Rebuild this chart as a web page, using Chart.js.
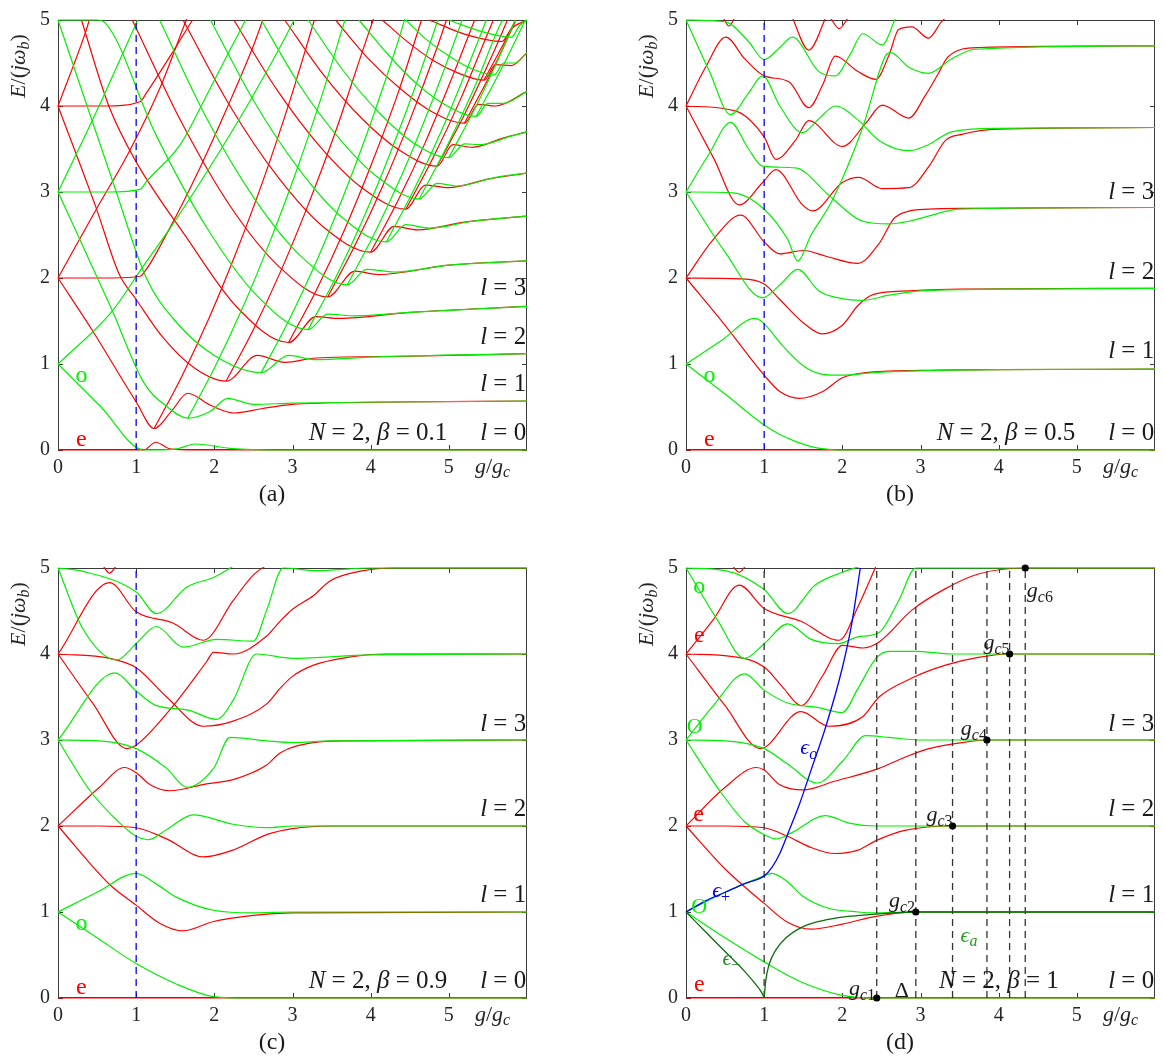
<!DOCTYPE html>
<html lang="en">
<head>
<meta charset="UTF-8">
<title>Energy spectra, N = 2</title>
<script src="https://cdn.jsdelivr.net/npm/chart.js"></script>
<style>
    * { margin: 0; padding: 0; box-sizing: border-box; }
    body {
        width: 1165px;
        height: 1064px;
        overflow: hidden;
        position: relative;
        background: #fff;
        font-family: "Liberation Serif", "Times New Roman", Times, "DejaVu Serif", serif;
    }
    canvas { position: absolute; }
    .tag {
        position: absolute;
        font-size: 24px;
        color: #1a1a1a;
        transform: translate(-50%, -50%);
    }
</style>
</head>
<body>
<canvas id="panelA" width="537" height="480" style="left:0;top:0"></canvas>
<canvas id="panelB" width="537" height="480" style="left:628px;top:0"></canvas>
<canvas id="panelC" width="537" height="480" style="left:0;top:548px"></canvas>
<canvas id="panelD" width="537" height="480" style="left:628px;top:548px"></canvas>
<div class="tag" style="left:272px;top:493px">(a)</div>
<div class="tag" style="left:900px;top:493px">(b)</div>
<div class="tag" style="left:272px;top:1041px">(c)</div>
<div class="tag" style="left:900px;top:1041px">(d)</div>

<script>
// axis ticks
const xTicks = [0, 1, 2, 3, 4, 5];
const yTicks = [0, 1, 2, 3, 4, 5];
const dashAt = 1; // g = g_c

// critical couplings in (d)
const gcX = [2.44, 2.94, 3.41, 3.85, 4.14, 4.34];
const gcY = [0, 1, 2, 3, 4, 5];

// (a) beta = 0.1 : even (red) and odd (green) levels
const aRed = [
    [[0,0],[1.1,0],[1.25,0.09],[1.45,0.01],[2,0],[6,0]],
    [[0,2],[0.44,1.39],[1.0,0.56],[1.23,0.25],[1.45,0.45],[1.66,0.66],[1.95,0.52],[2.25,0.43],[2.6,0.48],[3,0.53],[4,0.555],[6,0.57]],
    [[0,4],[0.49,2.81],[0.78,2.05],[1.0,1.75],[1.35,1.3],[1.75,0.95],[2.15,0.8],[2.55,1.1],[2.9,1.02],[3.3,1.07],[4.5,1.09],[6,1.12]],
    [[0,2],[0.49,2.8],[0.9,3.45],[1.3,4.2],[1.62,4.95],[1.65,5.02]],
    [[0,2],[0.7,2.0],[1.05,2.02],[1.13,2.1],[1.43,2.58],[1.8,3.25],[2.15,3.95],[2.5,4.7],[2.62,5.0]],
    [[0,4],[0.6,4.0],[1.05,4.05],[1.13,4.15],[1.49,4.66],[1.72,5.0]],
    [[0,4],[0.36,4.88],[0.4,5.0]],
    [[0.3,5],[0.65,4.0],[1.0,3.35],[1.63,2.49],[2.29,1.66],[2.95,1.25],[3.3,1.55],[3.6,1.53],[4.5,1.6],[6,1.67]],
    [[0.95,5],[1.58,3.81],[2.2,2.84],[2.83,2.13],[3.45,1.78],[3.8,2.08],[4.1,2.04],[5,2.15],[6,2.2]],
    [[1.6,5],[2.2,4.0],[2.8,3.19],[3.4,2.59],[4.0,2.3],[4.3,2.6],[4.6,2.56],[5.2,2.65],[6,2.72]],
    [[2.25,5],[2.8,4.19],[3.35,3.53],[3.9,3.04],[4.45,2.8],[4.7,3.08],[5.0,3.05],[5.5,3.15],[6,3.22]],
    [[2.9,5],[3.39,4.37],[3.88,3.86],[4.36,3.49],[4.85,3.3],[5.05,3.55],[5.3,3.52],[5.7,3.63],[6,3.7]],
    [[3.55,5],[3.96,4.56],[4.38,4.2],[4.79,3.93],[5.2,3.8],[5.38,4.02],[5.6,4.0],[6,4.17]],
    [[4.15,5],[4.48,4.74],[4.8,4.53],[5.13,4.38],[5.45,4.3],[5.6,4.48],[5.8,4.47],[6,4.62]],
    [[4.75,5],[5.22,4.83],[5.68,4.75],[5.8,4.9],[6,5.0]],
    [[1.23,0.25],[1.58,0.85],[1.93,1.53],[2.28,2.3],[2.63,3.15],[2.98,4.1],[3.28,5.0]],
    [[2.15,0.8],[2.5,1.4],[2.85,2.08],[3.2,2.85],[3.55,3.7],[3.9,4.65],[4.05,5.05]],
    [[2.95,1.25],[3.3,1.85],[3.65,2.53],[4.0,3.3],[4.35,4.15],[4.65,5.0]],
    [[3.45,1.78],[3.8,2.38],[4.15,3.06],[4.5,3.83],[4.85,4.68],[4.97,5.0]],
    [[4.0,2.3],[4.35,2.9],[4.7,3.58],[5.05,4.35],[5.33,5.0]],
    [[4.45,2.8],[4.8,3.4],[5.15,4.08],[5.5,4.85],[5.57,5.0]],
    [[4.85,3.3],[5.2,3.9],[5.55,4.58],[5.75,5.0]],
    [[5.2,3.8],[5.55,4.4],[5.85,4.98]],
    [[5.45,4.3],[5.8,4.9],[5.85,5.0]]
];
const aGreen = [
    [[0,1],[0.55,0.5],[1.1,0],[1.5,0.01],[1.75,0.07],[2.2,0.02],[2.8,0],[6,0]],
    [[0,3],[0.68,1.65],[1.1,0.78],[1.4,0.5],[1.66,0.37],[1.95,0.45],[2.17,0.6],[2.5,0.53],[3,0.545],[6,0.57]],
    [[0,5],[0.72,3.07],[1.13,2.0],[1.5,1.5],[2.0,1.1],[2.6,0.9],[2.95,1.1],[3.3,1.05],[4,1.08],[6,1.12]],
    [[0,1],[0.68,1.6],[1.1,2.15],[1.45,2.6],[1.95,3.3],[2.45,4.05],[2.85,4.7],[3.02,5.0]],
    [[0,3],[0.5,3.95],[1.02,5.0]],
    [[0,3],[0.65,3.0],[1.05,3.03],[1.13,3.12],[1.57,3.56],[1.91,4.14],[2.2,4.65],[2.4,5.0]],
    [[0,5],[0.5,5.0],[0.6,4.97],[1.25,3.67],[1.9,2.59],[2.55,1.79],[3.2,1.4],[3.45,1.58],[3.8,1.56],[4.5,1.6],[6,1.67]],
    [[1.3,5],[1.9,3.86],[2.5,2.94],[3.1,2.26],[3.7,1.92],[3.95,2.1],[4.3,2.07],[5,2.15],[6,2.2]],
    [[1.95,5],[2.51,4.05],[3.08,3.27],[3.64,2.7],[4.2,2.42],[4.45,2.62],[4.75,2.58],[5.3,2.66],[6,2.72]],
    [[2.6,5],[3.1,4.23],[3.61,3.61],[4.12,3.15],[4.62,2.92],[4.85,3.1],[5.1,3.07],[5.6,3.17],[6,3.22]],
    [[3.2,5],[3.65,4.41],[4.1,3.93],[4.55,3.57],[5.0,3.4],[5.2,3.56],[5.4,3.55],[5.8,3.65],[6,3.7]],
    [[3.85,5],[4.23,4.59],[4.6,4.25],[4.98,4.0],[5.35,3.88],[5.5,4.03],[5.7,4.03],[6,4.17]],
    [[4.45,5],[4.73,4.76],[5.02,4.57],[5.3,4.43],[5.58,4.36],[5.7,4.5],[5.85,4.5],[6,4.62]],
    [[5.0,5],[5.4,4.87],[5.8,4.8],[5.9,4.93],[6,5.0]],
    [[1.66,0.37],[2.01,0.97],[2.36,1.65],[2.71,2.42],[3.06,3.27],[3.41,4.22],[3.67,5.0]],
    [[2.6,0.9],[2.95,1.5],[3.3,2.18],[3.65,2.95],[4.0,3.8],[4.35,4.75],[4.45,5.05]],
    [[3.2,1.4],[3.55,2.0],[3.9,2.68],[4.25,3.45],[4.6,4.3],[4.86,5.0]],
    [[3.7,1.92],[4.05,2.52],[4.4,3.2],[4.75,3.97],[5.1,4.82],[5.17,5.0]],
    [[4.2,2.42],[4.55,3.02],[4.9,3.7],[5.25,4.47],[5.48,5.0]],
    [[4.62,2.92],[4.97,3.52],[5.32,4.2],[5.67,4.97],[5.69,5.0]],
    [[5.0,3.4],[5.35,4.0],[5.7,4.68],[5.85,5.0]],
    [[5.35,3.88],[5.7,4.48],[5.98,5.0]]
];

// (b) beta = 0.5
const bRed = [
    [[0,0],[6,0]],
    [[0,2],[0.5,1.45],[1.0,0.87],[1.2,0.68],[1.45,0.6],[1.75,0.68],[2.0,0.84],[2.3,0.9],[3,0.925],[4,0.935],[6,0.94]],
    [[0,2],[0.7,1.99],[1.0,1.93],[1.2,1.75],[1.5,1.48],[1.74,1.35],[2.0,1.45],[2.2,1.68],[2.4,1.81],[2.85,1.85],[3.5,1.87],[6,1.88]],
    [[0,2],[0.35,2.45],[0.7,2.73],[1.0,2.42],[1.2,2.28],[1.5,2.32],[1.8,2.25],[2.2,2.17],[2.47,2.4],[2.68,2.71],[3.1,2.8],[3.6,2.81],[6,2.82]],
    [[0,4],[0.35,3.4],[0.68,2.85],[0.98,3.11],[1.15,3.26],[1.49,2.85],[1.62,2.78],[2.0,3.11],[2.21,3.17],[2.51,3.04],[2.85,3.05],[3.11,3.3],[3.32,3.6],[3.53,3.67],[4,3.73],[6,3.75]],
    [[0,4],[0.64,3.94],[1.0,3.64],[1.15,3.38],[1.4,3.6],[1.57,3.83],[2.0,3.53],[2.3,3.8],[2.51,4.01],[2.85,3.86],[3.06,4.12],[3.23,4.38],[3.35,4.57],[3.74,4.68],[6,4.7]],
    [[0,4],[0.25,4.45],[0.51,4.8],[0.75,4.55],[1.0,4.35],[1.32,4.28],[1.57,3.98],[1.75,4.25],[1.91,4.58],[2.2,4.4],[2.43,4.31],[2.6,4.6],[2.72,4.89],[2.89,4.92],[3.1,4.79],[3.27,4.98],[3.35,5.05]],
    [[0.48,5.02],[0.55,4.93],[0.62,5.02]],
    [[1.35,5.05],[1.57,4.65],[1.8,5.05]],
    [[1.85,5.02],[1.96,4.9],[2.07,5.02]]
];
const bGreen = [
    [[0,1],[0.5,0.65],[1.0,0.29],[1.2,0.18],[1.4,0.1],[1.6,0.04],[1.8,0.01],[2.0,0],[6,0]],
    [[0,1],[0.45,1.27],[0.88,1.53],[1.0,1.47],[1.2,1.25],[1.5,0.98],[1.75,0.88],[2.0,0.87],[2.4,0.9],[3,0.92],[4,0.935],[6,0.94]],
    [[0,3],[0.5,2.3],[0.98,1.77],[1.2,1.92],[1.43,2.1],[1.7,1.85],[2.0,1.76],[2.25,1.74],[2.6,1.8],[3,1.85],[4,1.87],[6,1.88]],
    [[0,3],[0.6,2.99],[1.0,2.8],[1.3,2.45],[1.43,2.2],[1.6,2.5],[1.87,2.9],[2.26,3.75],[2.55,4.58],[2.62,4.62],[2.85,4.45],[3.1,4.38],[3.4,4.55],[3.7,4.66],[6,4.7]],
    [[0,3],[0.3,3.45],[0.57,3.81],[0.8,3.5],[0.98,3.3],[1.4,3.28],[1.83,2.96],[2.26,2.66],[2.6,2.63],[2.85,2.66],[3.1,2.72],[3.5,2.8],[6,2.82]],
    [[0,5],[0.3,4.4],[0.57,3.9],[0.8,4.15],[0.98,4.35],[1.2,4.0],[1.49,3.69],[1.7,3.85],[1.91,4.0],[2.21,3.83],[2.47,3.6],[2.85,3.48],[3.1,3.55],[3.4,3.7],[4,3.74],[6,3.75]],
    [[0,5],[0.5,4.98],[0.8,4.75],[1.0,4.54],[1.2,4.68],[1.36,4.8],[1.7,4.4],[1.91,4.35],[2.1,4.6],[2.26,4.84],[2.51,4.71],[2.68,5.02]]
];

// (c) beta = 0.9
const cRed = [
    [[0,0],[6,0]],
    [[0,2],[0.66,1.32],[1.0,1.08],[1.3,0.87],[1.6,0.78],[1.99,0.89],[2.5,0.96],[3,0.99],[6,1.0]],
    [[0,2],[0.53,2.0],[1.0,1.98],[1.39,1.85],[1.86,1.64],[2.24,1.72],[2.67,1.9],[3,1.97],[3.5,2.0],[6,2.0]],
    [[0,2],[0.53,2.45],[0.85,2.68],[1.0,2.62],[1.18,2.48],[1.43,2.41],[1.9,2.49],[2.24,2.54],[2.67,2.71],[2.84,2.85],[3.27,2.97],[3.7,2.99],[6,3.0]],
    [[0,4],[0.45,3.42],[0.88,2.9],[1.0,2.94],[1.43,3.35],[1.9,3.91],[1.99,4.02],[2.24,4.0],[2.67,4.21],[2.84,4.38],[3.0,4.52],[3.27,4.68],[3.48,4.85],[3.91,4.97],[4.3,5.0],[6,5.0]],
    [[0,4],[0.66,3.95],[1.0,3.84],[1.39,3.5],[1.86,3.16],[2.24,3.22],[2.67,3.42],[2.84,3.6],[3.0,3.74],[3.27,3.87],[3.7,3.96],[4.2,4.0],[6,4.0]],
    [[0,4],[0.66,4.83],[1.0,4.49],[1.47,4.36],[1.86,4.16],[2.24,4.62],[2.5,4.92],[2.7,5.05]],
    [[0.58,5.02],[0.66,4.94],[0.74,5.02]]
];
const cGreen = [
    [[0,1],[0.5,0.7],[1.0,0.4],[1.52,0.16],[1.99,0.015],[2.3,0],[6,0]],
    [[0,1],[0.5,1.23],[1.0,1.45],[1.25,1.33],[1.52,1.17],[1.99,1.02],[2.5,0.99],[3,1.0],[6,1.0]],
    [[0,3],[0.41,2.41],[0.75,2.07],[1.0,1.88],[1.15,1.84],[1.39,1.96],[1.73,2.13],[2.24,2.02],[2.67,1.98],[3,2.0],[6,2.0]],
    [[0,3],[0.53,2.99],[1.0,2.9],[1.39,2.67],[1.65,2.45],[1.99,2.67],[2.2,3.03],[2.67,2.99],[3,2.97],[3.5,2.99],[6,3.0]],
    [[0,3],[0.73,3.78],[1.0,3.57],[1.26,3.4],[1.65,3.35],[2.03,3.24],[2.24,3.46],[2.54,4.0],[3,3.95],[4,3.99],[6,4.0]],
    [[0,5],[0.32,4.29],[0.75,3.93],[1.0,4.12],[1.26,4.32],[1.6,4.08],[2.03,4.17],[2.5,4.15],[2.67,4.51],[2.88,5.0],[3.3,4.97],[4,5.0],[6,5.0]],
    [[0,5],[0.32,4.96],[1.0,4.72],[1.26,4.47],[1.65,4.78],[1.99,4.89],[2.24,5.02]]
];

// (d) beta = 1
const dRed = [
    [[0,0],[6,0]],
    [[0,2],[0.5,1.5],[1.0,1.1],[1.3,0.88],[1.6,0.8],[2.0,0.86],[2.43,0.95],[2.94,1.0],[6,1.0]],
    [[0,2],[0.5,2.0],[1.0,1.98],[1.3,1.88],[1.6,1.75],[1.9,1.68],[2.2,1.72],[2.43,1.83],[2.8,1.95],[3.43,2.0],[6,2.0]],
    [[0,2],[0.5,2.45],[0.9,2.68],[1.0,2.65],[1.2,2.48],[1.5,2.42],[1.9,2.52],[2.47,2.67],[2.8,2.8],[3.11,2.9],[3.53,2.97],[3.87,3.0],[6,3.0]],
    [[0,4],[0.5,3.4],[0.95,2.9],[1.47,3.33],[1.83,3.16],[2.26,3.27],[2.47,3.5],[2.89,3.72],[3.32,3.87],[3.74,3.96],[4.15,4.0],[6,4.0]],
    [[0,4],[0.6,3.97],[1.0,3.85],[1.25,3.6],[1.47,3.4],[1.75,3.75],[2.0,4.1],[2.26,4.07],[2.47,4.14],[2.89,4.51],[3.32,4.76],[3.74,4.93],[4.35,5.0],[6,5.0]],
    [[0,4],[0.35,4.4],[0.68,4.8],[1.0,4.53],[1.47,4.38],[1.96,4.16],[2.2,4.55],[2.43,5.02]],
    [[0.6,5.02],[0.68,4.95],[0.76,5.02]]
];
const dGreen = [
    [[0,1],[0.5,0.7],[1.0,0.42],[1.49,0.18],[2.0,0.03],[2.43,0],[6,0]],
    [[0,1],[0.5,1.23],[1.0,1.42],[1.1,1.45],[1.3,1.35],[1.5,1.18],[1.8,1.05],[2.2,1.0],[2.43,0.99],[3,1.0],[6,1.0]],
    [[0,3],[0.4,2.45],[0.75,2.05],[1.0,1.9],[1.15,1.85],[1.35,1.92],[1.78,2.12],[2.1,2.03],[2.43,2.0],[6,2.0]],
    [[0,3],[0.5,2.99],[1.0,2.9],[1.3,2.72],[1.68,2.5],[2.0,2.75],[2.3,3.05],[2.6,3.03],[3.0,3.0],[6,3.0]],
    [[0,3],[0.35,3.4],[0.75,3.77],[1.0,3.58],[1.3,3.43],[1.68,3.38],[2.0,3.32],[2.2,3.6],[2.43,3.95],[2.6,4.03],[2.93,4.03],[3.4,4.0],[6,4.0]],
    [[0,5],[0.4,4.4],[0.75,3.95],[1.0,4.12],[1.3,4.35],[1.6,4.17],[1.95,4.12],[2.2,4.2],[2.47,4.25],[2.72,4.62],[2.94,5.0],[6,5.0]],
    [[0,5],[0.5,4.97],[1.0,4.75],[1.3,4.47],[1.65,4.8],[2.0,4.95],[2.23,5.02]]
];
const dBlue = [[0,1],[0.25,1.13],[0.5,1.23],[0.75,1.33],[1.0,1.42],[1.1,1.52],[1.2,1.68],[1.32,1.95],[1.45,2.25],[1.6,2.65],[1.79,3.16],[2.0,3.84],[2.12,4.35],[2.23,5.0]];
const dMinus = [[0,1],[0.25,0.77],[0.5,0.54],[0.75,0.31],[0.9,0.15],[0.97,0.06],[1.0,0]];
const dAlpha = [[1.0,0],[1.02,0.2],[1.06,0.38],[1.15,0.56],[1.28,0.7],[1.5,0.83],[1.75,0.9],[2.0,0.94],[2.43,0.975],[2.94,1.0],[6,1.0]];

const RED = '#ff0000';
const GREEN = '#00f000';
const DARK = '#0b6e0b';
const serif = '"Liberation Serif", "Times New Roman", Times, "DejaVu Serif", serif';
const ink = '#262626';

// text with italic / roman / subscript pieces
function pieceFont(style, size) {
    const sub = style[0] === 's';
    return (style.endsWith('i') ? 'italic ' : '') + Math.round(sub ? size * 0.72 : size) + 'px ' + serif;
}
function drawRich(ctx, x, y, parts, size, color, align) {
    let w = 0;
    parts.forEach(p => { ctx.font = pieceFont(p[1], size); w += ctx.measureText(p[0]).width; });
    let cx = align === 'right' ? x - w : (align === 'left' ? x : x - w / 2);
    ctx.fillStyle = color;
    ctx.textBaseline = 'middle';
    ctx.textAlign = 'left';
    parts.forEach(p => {
        ctx.font = pieceFont(p[1], size);
        ctx.fillText(p[0], cx, p[1][0] === 's' ? y + size * 0.28 : y);
        cx += ctx.measureText(p[0]).width;
    });
}

const framePlugin = {
    id: 'frame',
    beforeDatasetsDraw(chart) {
        const { ctx, chartArea: a, scales } = chart;
        ctx.save();
        ctx.strokeStyle = '#3a3a3a';
        ctx.lineWidth = 1;
        ctx.strokeRect(a.left + 0.5, a.top + 0.5, a.width - 1, a.height - 1);
        ctx.beginPath();
        xTicks.forEach(v => {
            const px = Math.round(scales.x.getPixelForValue(v)) + 0.5;
            ctx.moveTo(px, a.bottom); ctx.lineTo(px, a.bottom - 5);
            ctx.moveTo(px, a.top); ctx.lineTo(px, a.top + 5);
        });
        yTicks.forEach(v => {
            const py = Math.round(scales.y.getPixelForValue(v)) + 0.5;
            ctx.moveTo(a.left, py); ctx.lineTo(a.left + 5, py);
            ctx.moveTo(a.right, py); ctx.lineTo(a.right - 5, py);
        });
        ctx.stroke();
        ctx.restore();
    },
    afterDraw(chart, args, opts) {
        const { ctx, chartArea: a, scales } = chart;
        ctx.save();
        (opts.notes || []).forEach(n => {
            drawRich(ctx, scales.x.getPixelForValue(n.x), scales.y.getPixelForValue(n.y),
                n.parts, n.size || 25, n.color || '#1a1a1a', n.align || 'center');
        });
        drawRich(ctx, scales.x.getPixelForValue(5.56), a.bottom + 17,
            [['g', 'i'], ['/', 'r'], ['g', 'i'], ['c', 'si']], 22, ink, 'center');
        ctx.translate(19, a.top + 46);
        ctx.rotate(-Math.PI / 2);
        drawRich(ctx, 0, 0, [['E', 'i'], ['/(', 'r'], ['jω', 'i'], ['b', 'si'], [')', 'r']], 22, ink, 'center');
        ctx.restore();
    }
};

function toXY(c) { return c.map(p => ({ x: p[0], y: p[1] })); }
function curves(list, color, width) {
    return list.map(c => ({ data: toXY(c), borderColor: color, borderWidth: width || 1.2 }));
}
function vline(g, color) {
    return { data: [{ x: g, y: 0 }, { x: g, y: 5 }], borderColor: color, borderWidth: 1.3,
             borderDash: [7, 5], cubicInterpolationMode: 'default', tension: 0 };
}
function levelNotes(ys, betaText, betaRight) {
    const notes = ys.map((y, i) => ({ x: 5.99, y: y, align: 'right', parts: [['l', 'i'], [' = ' + i, 'r']] }));
    notes.push({ x: betaRight, y: ys[0], align: 'right', parts: [['N', 'i'], [' = 2, ', 'r'], ['β', 'i'], [' = ' + betaText, 'r']] });
    return notes;
}
function parityNotes() {
    return [
        { x: 0.3, y: 0.86, parts: [['o', 'r']], color: GREEN, size: 24 },
        { x: 0.3, y: 0.12, parts: [['e', 'r']], color: RED, size: 24 }
    ];
}

function makeChart(id, datasets, notes) {
    const tickFont = { family: serif, size: 20 };
    return new Chart(document.getElementById(id), {
        type: 'scatter',
        data: { datasets },
        options: {
            responsive: false,
            animation: false,
            events: [],
            layout: { padding: { left: 0, top: 5, right: 10, bottom: 5 } },
            datasets: {
                scatter: { showLine: true, pointRadius: 0, borderWidth: 1.2, cubicInterpolationMode: 'monotone', clip: 1 }
            },
            plugins: { legend: { display: false }, tooltip: { enabled: false }, frame: { notes } },
            scales: {
                x: {
                    type: 'linear', min: 0, max: 6,
                    afterBuildTicks: s => { s.ticks = xTicks.map(v => ({ value: v })); },
                    afterFit: s => { s.height = 25; },
                    ticks: { autoSkip: false, maxRotation: 0, padding: 6, color: ink, font: tickFont },
                    grid: { display: false, drawTicks: false },
                    border: { display: false }
                },
                y: {
                    type: 'linear', min: 0, max: 5,
                    afterBuildTicks: s => { s.ticks = yTicks.map(v => ({ value: v })); },
                    afterFit: s => { s.width = 58; },
                    ticks: { autoSkip: false, padding: 8, color: ink, font: tickFont },
                    grid: { display: false, drawTicks: false },
                    border: { display: false }
                }
            }
        },
        plugins: [framePlugin]
    });
}

// (a)
makeChart('panelA',
    [vline(dashAt, '#0000ff'), ...curves(aGreen, GREEN), ...curves(aRed, RED)],
    [...levelNotes([0.19, 0.76, 1.31, 1.88], '0.1', 4.98), ...parityNotes()]);

// (b)
makeChart('panelB',
    [vline(dashAt, '#0000ff'), ...curves(bGreen, GREEN), ...curves(bRed, RED)],
    [...levelNotes([0.19, 1.15, 2.06, 3.0], '0.5', 4.98), ...parityNotes()]);

// (c)
makeChart('panelC',
    [vline(dashAt, '#0000ff'), ...curves(cGreen, GREEN), ...curves(cRed, RED)],
    [...levelNotes([0.19, 1.19, 2.19, 3.18], '0.9', 4.98), ...parityNotes()]);

// (d)
const dNotes = levelNotes([0.19, 1.19, 2.19, 3.18], '1', 4.77);
dNotes.push(
    { x: 0.17, y: 4.78, parts: [['o', 'r']], color: GREEN, size: 24 },
    { x: 0.17, y: 4.21, parts: [['e', 'r']], color: RED, size: 24 },
    { x: 0.11, y: 3.15, parts: [['O', 'r']], color: GREEN, size: 22 },
    { x: 0.16, y: 2.13, parts: [['e', 'r']], color: RED, size: 24 },
    { x: 0.17, y: 1.06, parts: [['O', 'r']], color: GREEN, size: 22 },
    { x: 0.17, y: 0.16, parts: [['e', 'r']], color: RED, size: 24 },
    { x: 0.45, y: 1.24, parts: [['ϵ', 'i'], ['+', 'sr']], color: '#0000ff', size: 22 },
    { x: 0.58, y: 0.45, parts: [['ϵ', 'i'], ['−', 'sr']], color: '#228b22', size: 22 },
    { x: 1.57, y: 2.9, parts: [['ϵ', 'i'], ['o', 'si']], color: '#0000ff', size: 22 },
    { x: 3.62, y: 0.72, parts: [['ϵ', 'i'], ['a', 'si']], color: '#22a022', size: 22 },
    { x: 2.42, y: 0.1, align: 'right', parts: [['g', 'i'], ['c', 'si'], ['1', 'sr']], size: 22 },
    { x: 2.76, y: 0.08, parts: [['Δ', 'r']], size: 22 },
    { x: 2.93, y: 1.12, align: 'right', parts: [['g', 'i'], ['c', 'si'], ['2', 'sr']], size: 22 },
    { x: 3.41, y: 2.12, align: 'right', parts: [['g', 'i'], ['c', 'si'], ['3', 'sr']], size: 22 },
    { x: 3.85, y: 3.12, align: 'right', parts: [['g', 'i'], ['c', 'si'], ['4', 'sr']], size: 22 },
    { x: 4.14, y: 4.12, align: 'right', parts: [['g', 'i'], ['c', 'si'], ['5', 'sr']], size: 22 },
    { x: 4.36, y: 4.73, align: 'left', parts: [['g', 'i'], ['c', 'si'], ['6', 'sr']], size: 22 }
);
const dDots = {
    data: gcX.map((g, i) => ({ x: g, y: gcY[i] })),
    showLine: false, pointRadius: 3, pointBackgroundColor: '#000', pointBorderColor: '#000', clip: 4
};
makeChart('panelD',
    [dDots,
     { data: toXY(dBlue), borderColor: '#0000ff', borderWidth: 1.3 },
     { data: toXY(dMinus), borderColor: DARK, borderWidth: 1.3 },
     { data: toXY(dAlpha), borderColor: DARK, borderWidth: 1.3 },
     vline(dashAt, '#333333'), ...gcX.map(g => vline(g, '#333333')),
     ...curves(dGreen, GREEN), ...curves(dRed, RED)],
    dNotes);
</script>
</body>
</html>
